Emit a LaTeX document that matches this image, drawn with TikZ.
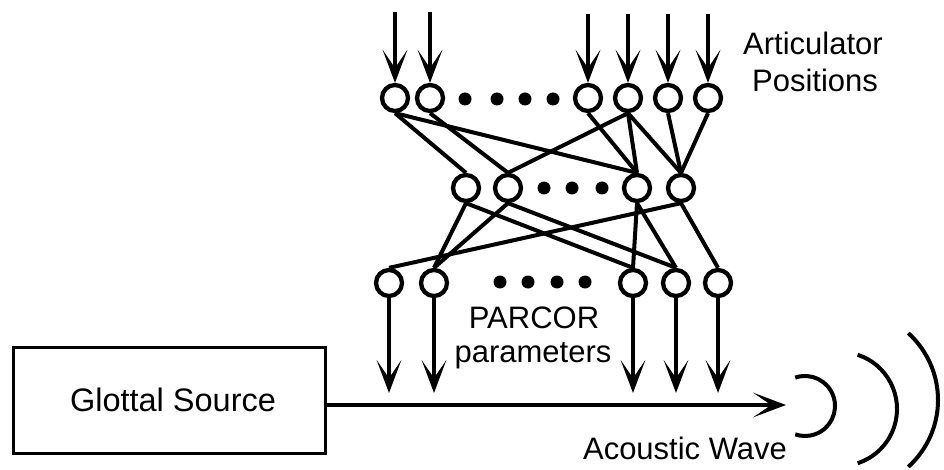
\documentclass[tikz,border=0pt]{standalone}
\usepackage{fontspec}
\setmainfont{Liberation Sans}
\usetikzlibrary{arrows.meta}
\begin{document}
\begin{tikzpicture}[x=1pt,y=-1pt,
  neuron/.style={circle, draw, line width=4.3pt, minimum size=26pt, inner sep=0pt, fill=white},
  dotnode/.style={circle, fill, minimum size=13pt, inner sep=0pt},
  link/.style={line width=4pt},
  inarrow/.style={line width=3.3pt, -{Stealth[scale=1.85, inset'=0pt 0.55]}},
  wave/.style={line width=4pt},
  lbl/.style={font=\fontsize{31}{36}\selectfont, inner sep=0pt, anchor=base},
  boxnode/.style={draw, line width=3pt, minimum width=312pt, minimum height=106pt, inner sep=0pt, font=\fontsize{32.5}{36}\selectfont}
]
\useasboundingbox (0,0) rectangle (944,470);

% top layer
\node[neuron] (t1) at (395,98) {};
\node[neuron] (t2) at (430,98) {};
\node[neuron] (t3) at (588,98) {};
\node[neuron] (t4) at (628,98) {};
\node[neuron] (t5) at (668,98) {};
\node[neuron] (t6) at (708,98) {};
\foreach \x [count=\i] in {465,497,525,553} \node[dotnode] (td\i) at (\x,99) {};

% middle layer
\node[neuron] (m1) at (466,188) {};
\node[neuron] (m2) at (508,188) {};
\node[neuron] (m3) at (637,188) {};
\node[neuron] (m4) at (681,188) {};
\foreach \x [count=\i] in {544,572,602} \node[dotnode] (md\i) at (\x,188) {};

% bottom layer
\node[neuron] (b1) at (389,283) {};
\node[neuron] (b2) at (434,283) {};
\node[neuron] (b3) at (633,283) {};
\node[neuron] (b4) at (676,283) {};
\node[neuron] (b5) at (718,283) {};
\foreach \x [count=\i] in {500,528,557,585} \node[dotnode] (bd\i) at (\x,282) {};

% top to middle connections
\draw[link] (t1.south) -- (m1.north);
\draw[link] (t1.south) -- (m3.north);
\draw[link] (t2.south) -- (m2.north);
\draw[link] (t3.south) -- (m3.north);
\draw[link] (t4.south) -- (m2.north);
\draw[link] (t4.south) -- (m3.north);
\draw[link] (t4.south) -- (m4.north);
\draw[link] (t5.south) -- (m4.north);
\draw[link] (t6.south) -- (m4.north);

% middle to bottom connections
\draw[link] (m1.south) -- (b2.north);
\draw[link] (m1.south) -- (b3.north);
\draw[link] (m2.south) -- (b2.north);
\draw[link] (m2.south) -- (b4.north);
\draw[link] (m3.south) -- (b3.north);
\draw[link] (m3.south) -- (b4.north);
\draw[link] (m4.south) -- (b1.north);
\draw[link] (m4.south) -- (b5.north);

% input arrows
\coordinate (i1) at (395,12);
\coordinate (i2) at (430,12);
\coordinate (i3) at (588,14);
\coordinate (i4) at (628,14);
\coordinate (i5) at (668,14);
\coordinate (i6) at (708,14);
\foreach \k in {1,...,6} \draw[inarrow] (i\k) -- (t\k.north);

% output arrows
\coordinate (o1) at (389,393);
\coordinate (o2) at (434,393);
\coordinate (o3) at (633,393);
\coordinate (o4) at (676,393);
\coordinate (o5) at (718,393);
\foreach \k in {1,...,5} \draw[inarrow] (b\k.south) -- (o\k);

% glottal source and acoustic path
\node[boxnode] (gs) at (169,400) {\hspace*{8pt}Glottal Source};
\coordinate (hw) at (786,405);
\draw[inarrow] (gs.east |- hw) -- (hw);

% waves
\draw[wave] (805,406) ++(109:30pt) arc[start angle=109, end angle=-109, radius=30pt];
\draw[wave] (840,409) ++(72:57pt) arc[start angle=72, end angle=-72, radius=57pt];
\draw[wave] (848,400) ++(48:90pt) arc[start angle=48, end angle=-48, radius=90pt];

% labels
\node[lbl] (art) at (813,55) {Articulator};
\node[lbl] (pos) at (815,92) {Positions};
\node[lbl] (parc) at (534,328) {PARCOR};
\node[lbl] (par) at (533,362) {parameters};
\node[lbl] (ac) at (685,459) {Acoustic Wave};
\end{tikzpicture}
\end{document}
